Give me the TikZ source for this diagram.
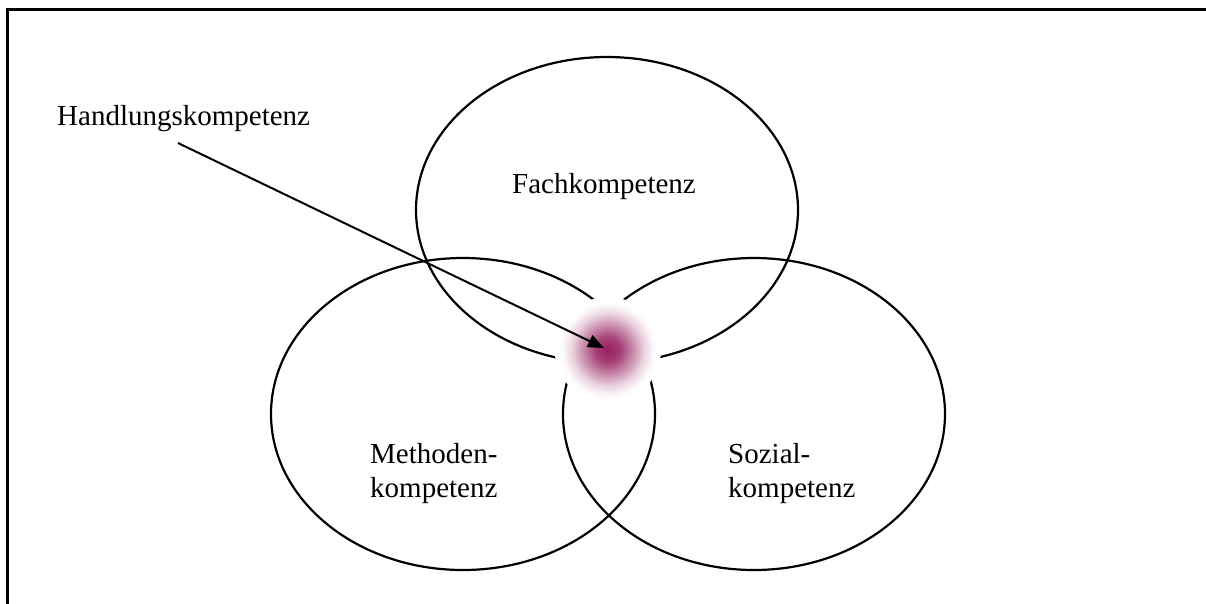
\documentclass[tikz,border=0pt]{standalone}
\usepackage{fontspec}
\setmainfont{Liberation Serif}
\usetikzlibrary{arrows.meta}
\definecolor{glowcol}{RGB}{150,32,95}
% soft spot: dark centre fading to white, white rim covers the lines beneath
% (the path's radius corresponds to 25bp of the shading)
\pgfdeclareradialshading{softspot}{\pgfpoint{0bp}{0bp}}{%
  color(0bp)=(glowcol);
  color(6bp)=(glowcol!85!white);
  color(12bp)=(glowcol!50!white);
  color(17bp)=(glowcol!20!white);
  color(21bp)=(glowcol!4!white);
  color(23bp)=(white);
  color(50bp)=(white)}
\tikzset{
  ring/.style={draw=black, line width=2.2pt},
  label/.style={inner sep=0pt, font=\fontsize{29}{34}\selectfont},
  pointer/.style={draw=black, line width=2pt, -{Triangle[length=16pt,width=13pt]}},
  frameline/.style={draw=black, line width=3pt}
}
\begin{document}
\begin{tikzpicture}[x=1pt, y=-1pt]
  \useasboundingbox (0,0) rectangle (1206,603);
  % open frame: top edge and left edge
  \draw[frameline] (7.5,610) -- (7.5,9) -- (1215,9);

  % the three overlapping areas
  \draw[ring] (607,210) ellipse [x radius=191, y radius=153];
  \draw[ring] (463,414) ellipse [x radius=192, y radius=156];
  \draw[ring] (754,414) ellipse [x radius=191, y radius=156];

  % highlighted common core
  \shade[shading=softspot] (608,350) circle [radius=53];

  % labels
  \node[label, anchor=base west] (hk) at (57,125) {Handlungskompetenz};
  \node[label, anchor=base west] (fk) at (512,193) {Fachkompetenz};
  \node[label, anchor=base west] (mk1) at (370,463) {Methoden-};
  \node[label, anchor=base west] (mk2) at (370,497) {kompetenz};
  \node[label, anchor=base west] (sk1) at (728,463) {Sozial-};
  \node[label, anchor=base west] (sk2) at (728,497) {kompetenz};

  % pointer from the label to the core
  \coordinate (hkfoot) at (178,143);
  \coordinate (core) at (604,348);
  \draw[pointer] (hkfoot) -- (core);
\end{tikzpicture}
\end{document}
